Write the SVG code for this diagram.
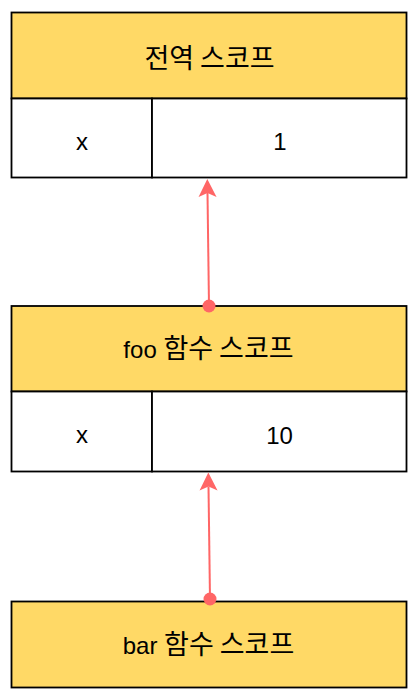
<svg xmlns="http://www.w3.org/2000/svg" width="418" height="699" viewBox="0 0 418 699">
  <style>
    .hdr { fill: #FFD966; stroke: #000; stroke-width: 1.8; }
    .cell { fill: #FFFFFF; stroke: #000; stroke-width: 1.8; }
    .t { font-family: "Liberation Sans", "Noto Sans CJK KR", Arial, sans-serif; font-size: 24px; fill: #000; text-anchor: middle; }
    .ko { font-family: "Noto Sans CJK KR", sans-serif; font-size: 27px; }
    .conn { stroke: #FF6666; stroke-width: 2; fill: none; }
    .dot { fill: #FF6666; }
  </style>
  <defs>
    <marker id="arrow" viewBox="-1 -10 20 20" markerWidth="20" markerHeight="20" refX="4" refY="0" orient="auto" markerUnits="userSpaceOnUse">
      <path d="M0,-9 L18,0 L0,9 L4,0 Z" fill="#FF6666"/>
    </marker>
  </defs>
  <rect width="418" height="699" fill="#FFFFFF"/>

  <g id="global-scope">
    <rect class="hdr" x="11.5" y="12.5" width="395" height="86"/>
    <rect class="cell" x="11.5" y="98.5" width="140.5" height="79"/>
    <rect class="cell" x="152" y="98.5" width="254.5" height="79"/>
    <text class="t" x="209.5" y="67.5"><tspan class="ko">전역 스코프</tspan></text>
    <text class="t" x="82" y="149.5">x</text>
    <text class="t" x="280" y="150">1</text>
  </g>

  <g id="foo-scope">
    <rect class="hdr" x="11.5" y="306" width="395" height="85.5"/>
    <rect class="cell" x="11.5" y="391.5" width="140.5" height="80"/>
    <rect class="cell" x="152" y="391.5" width="254.5" height="80"/>
    <text class="t" x="208.5" y="358">foo <tspan class="ko">함수 스코프</tspan></text>
    <text class="t" x="82" y="443">x</text>
    <text class="t" x="279.5" y="443.5">10</text>
  </g>

  <g id="bar-scope">
    <rect class="hdr" x="11.5" y="601.5" width="395" height="86"/>
    <text class="t" x="208.5" y="653.5">bar <tspan class="ko">함수 스코프</tspan></text>
  </g>

  <g id="connectors">
    <path class="conn" d="M209,306 L207.5,193" marker-end="url(#arrow)"/>
    <circle class="dot" cx="209" cy="306" r="6.5"/>
    <path class="conn" d="M210,599 L208.5,486.5" marker-end="url(#arrow)"/>
    <circle class="dot" cx="210" cy="599" r="6.5"/>
  </g>
</svg>
